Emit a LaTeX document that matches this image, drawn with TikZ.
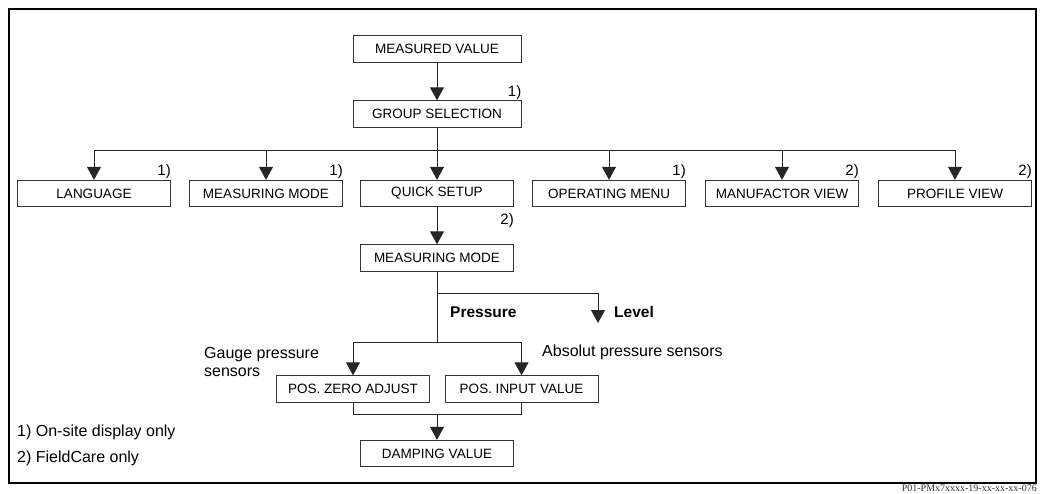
\documentclass[tikz,border=0pt]{standalone}
\usepackage{fontspec}
\setmainfont{Liberation Sans}
\newfontfamily\codefont{Liberation Serif}
\usetikzlibrary{arrows.meta}

\begin{document}
\begin{tikzpicture}[
  x=1pt, y=-1pt,
  menubox/.style = {draw=black!80, line width=0.9pt, minimum width=153pt,
                    minimum height=26.5pt, inner sep=0pt,
                    font=\fontsize{13.5}{15}\selectfont},
  arr/.style     = {-{Triangle[width=14pt,length=13pt]}, line width=1pt, black!85},
  conn/.style    = {line width=1pt, black!85},
  note/.style    = {anchor=base east, inner sep=0pt, yshift=4pt,
                    font=\fontsize{15}{17}\selectfont},
  lbl/.style     = {anchor=west, inner sep=0pt, align=left,
                    font=\fontsize{16}{18.5}\selectfont},
  blbl/.style    = {anchor=west, inner sep=0pt,
                    font=\fontsize{15.5}{18}\selectfont\bfseries},
]
\useasboundingbox (0,0) rectangle (1040,493);
\draw[line width=1.4pt] (9,9) rectangle (1036,483);

%% -- Top of the menu --------------------------------------------------
\node[menubox, minimum width=168pt] (mv) at (437,49)  {MEASURED VALUE};
\node[menubox, minimum width=168pt] (gs) at (437,114) {GROUP SELECTION};
\draw[arr] (mv) -- (gs);
\node[note] at (gs.north east) {1)};

%% -- Group selection row ----------------------------------------------
\coordinate (split1) at (437,150.5);
\node[menubox] (lang)  at (94,193.5)  {LANGUAGE};
\node[menubox] (mmode) at (266,193.5) {MEASURING MODE};
\node[menubox] (qs)    at (437,193.5) {QUICK SETUP};
\node[menubox] (opm)   at (609,193.5) {OPERATING MENU};
\node[menubox] (manv)  at (782,193.5) {MANUFACTOR VIEW};
\node[menubox] (prof)  at (955,193.5) {PROFILE VIEW};
\draw[conn] (gs) -- (split1);
\foreach \n in {lang, mmode, opm, manv, prof}
  \draw[arr] (split1) -| (\n);
\draw[arr] (split1) -- (qs);
\node[note] at (lang.north east)  {1)};
\node[note] at (mmode.north east) {1)};
\node[note] at (opm.north east)   {1)};
\node[note] at (manv.north east)  {2)};
\node[note] at (prof.north east)  {2)};

%% -- Quick setup ------------------------------------------------------
\node[menubox] (mm2) at (437,258) {MEASURING MODE};
\draw[arr] (qs) -- (mm2);
\node[note, yshift=16pt] at (mm2.north east) {2)};

%% -- Pressure / Level -------------------------------------------------
\coordinate (split2) at (437,293.5);
\coordinate (lvl)    at (598,323);
\coordinate (split3) at (437,342.5);
\draw[conn] (mm2) -- (split3);
\draw[arr]  (split2) -| (lvl);
\node[blbl] (press) at (450,312) {Pressure};
\node[blbl] (level) at (614,312) {Level};

%% -- Sensors ----------------------------------------------------------
\node[menubox] (pza) at (353,389)   {POS. ZERO ADJUST};
\node[menubox] (piv) at (521.5,389) {POS. INPUT VALUE};
\draw[arr] (split3) -| (pza);
\draw[arr] (split3) -| (piv);
\node[lbl] (gauge) at (204,362) {Gauge pressure\\sensors};
\node[lbl] (absol) at (542,352) {Absolut pressure sensors};

%% -- Damping ----------------------------------------------------------
\coordinate (join) at (437,414.5);
\node[menubox] (damp) at (437,453.5) {DAMPING VALUE};
\draw[conn] (pza.south) |- (join) -| (piv.south);
\draw[arr]  (join) -- (damp);

%% -- Footnotes --------------------------------------------------------
\node[lbl] (fn1) at (17,432) {1) On-site display only};
\node[lbl] (fn2) at (17,458) {2) FieldCare only};
\node[anchor=base east, inner sep=0pt, black!80,
      font=\codefont\fontsize{10}{11}\selectfont] (code)
  at (1037,491) {P01-PMx7xxxx-19-xx-xx-xx-076};

\end{tikzpicture}
\end{document}
